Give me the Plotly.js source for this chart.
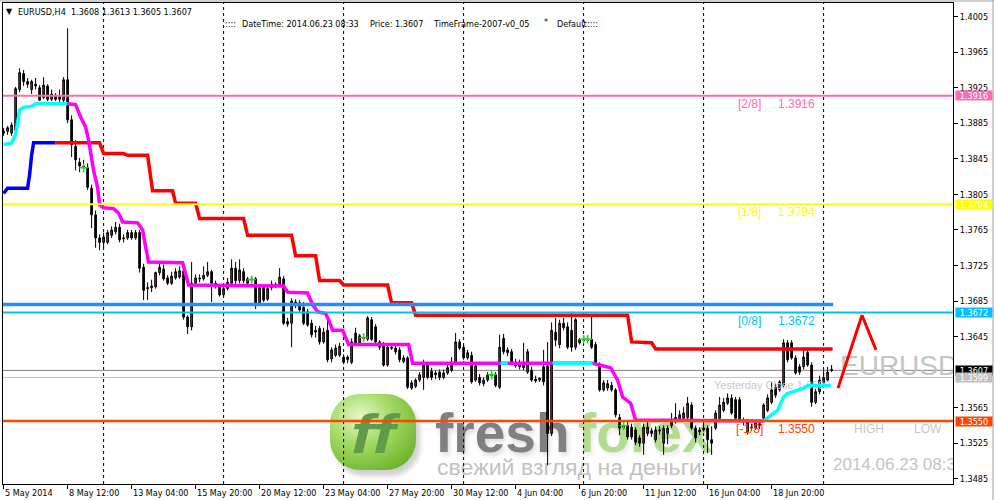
<!DOCTYPE html>
<html><head><meta charset="utf-8">
<script src="https://cdn.plot.ly/plotly-3.0.1.min.js"></script>
<style>html,body{margin:0;padding:0;background:#fff;}#chart{width:994px;height:500px;}</style>
</head><body><div id="chart"></div>
<script>
// ---------- DATA (EURUSD H4, one value per bar, bar 0 = 5 May 2014 20:00) ----------
const openP=[
1.3874,1.3876,1.3874,1.3877,1.3923,1.3941,1.3932,1.3923,1.3929,1.3925,
1.3914,1.3927,1.3912,1.3916,1.3912,1.3911,1.3934,1.3889,1.3859,1.3841,
1.3837,1.3835,1.3812,1.3782,1.3756,1.3751,1.3751,1.3759,1.3763,1.3768,
1.3755,1.3756,1.3762,1.3756,1.3762,1.3723,1.3699,1.3700,1.3701,1.3717,
1.3721,1.3711,1.3705,1.3711,1.3712,1.3719,1.3667,1.3656,1.3705,1.3711,
1.3710,1.3714,1.3718,1.3705,1.3702,1.3692,1.3699,1.3705,1.3722,1.3708,
1.3718,1.3705,1.3710,1.3710,1.3683,1.3700,1.3687,1.3700,1.3704,1.3703,
1.3710,1.3662,1.3660,1.3681,1.3683,1.3678,1.3673,1.3660,1.3652,1.3654,
1.3639,1.3652,1.3620,1.3624,1.3624,1.3622,1.3619,1.3616,1.3649,1.3638,
1.3644,1.3642,1.3664,1.3656,1.3639,1.3636,1.3613,1.3633,1.3632,1.3630,
1.3617,1.3621,1.3593,1.3589,1.3596,1.3599,1.3613,1.3606,1.3602,1.3605,
1.3599,1.3604,1.3607,1.3615,1.3639,1.3633,1.3621,1.3624,1.3596,1.3599,
1.3592,1.3596,1.3602,1.3602,1.3588,1.3643,1.3630,1.3628,1.3615,1.3611,
1.3616,1.3605,1.3607,1.3597,1.3596,1.3611,1.3612,1.3536,1.3650,1.3636,
1.3660,1.3656,1.3652,1.3633,1.3638,1.3642,1.3642,1.3642,1.3636,1.3613,
1.3585,1.3587,1.3590,1.3585,1.3554,1.3543,1.3545,1.3543,1.3540,1.3531,
1.3525,1.3536,1.3539,1.3529,1.3540,1.3525,1.3536,1.3545,1.3549,1.3552,
1.3553,1.3554,1.3568,1.3542,1.3538,1.3542,1.3542,1.3529,1.3542,1.3553,
1.3562,1.3570,1.3576,1.3574,1.3574,1.3551,1.3549,1.3542,1.3542,1.3545,
1.3553,1.3562,1.3571,1.3588,1.3585,1.3590,1.3638,1.3638,1.3621,1.3611,
1.3611,1.3627,1.3613,1.3571,1.3583,1.3593,1.3596,1.3608];
const highP=[
1.3880,1.3882,1.3886,1.3926,1.3947,1.3945,1.3936,1.3934,1.3936,1.3928,
1.3937,1.3929,1.3923,1.3919,1.3923,1.3937,1.3992,1.3894,1.3866,1.3846,
1.3844,1.3840,1.3816,1.3787,1.3760,1.3762,1.3765,1.3769,1.3774,1.3772,
1.3760,1.3765,1.3765,1.3765,1.3765,1.3727,1.3706,1.3709,1.3718,1.3727,
1.3726,1.3714,1.3718,1.3722,1.3724,1.3724,1.3669,1.3729,1.3715,1.3715,
1.3724,1.3729,1.3720,1.3708,1.3704,1.3701,1.3711,1.3732,1.3729,1.3732,
1.3722,1.3712,1.3713,1.3712,1.3703,1.3702,1.3703,1.3708,1.3706,1.3722,
1.3713,1.3666,1.3688,1.3687,1.3686,1.3684,1.3676,1.3664,1.3657,1.3657,
1.3655,1.3667,1.3633,1.3636,1.3638,1.3625,1.3624,1.3643,1.3655,1.3648,
1.3648,1.3668,1.3667,1.3659,1.3641,1.3639,1.3637,1.3637,1.3636,1.3633,
1.3624,1.3623,1.3596,1.3598,1.3605,1.3619,1.3616,1.3610,1.3607,1.3608,
1.3608,1.3613,1.3622,1.3649,1.3642,1.3636,1.3630,1.3628,1.3616,1.3603,
1.3599,1.3605,1.3605,1.3605,1.3647,1.3648,1.3633,1.3631,1.3620,1.3619,
1.3638,1.3631,1.3611,1.3601,1.3599,1.3630,1.3639,1.3661,1.3666,1.3664,
1.3666,1.3661,1.3673,1.3666,1.3643,1.3646,1.3646,1.3667,1.3639,1.3616,
1.3596,1.3596,1.3594,1.3587,1.3558,1.3549,1.3549,1.3547,1.3543,1.3534,
1.3547,1.3549,1.3542,1.3544,1.3544,1.3545,1.3545,1.3559,1.3570,1.3562,
1.3566,1.3577,1.3571,1.3545,1.3543,1.3547,1.3545,1.3544,1.3562,1.3577,
1.3576,1.3581,1.3580,1.3577,1.3577,1.3554,1.3552,1.3547,1.3550,1.3551,
1.3570,1.3580,1.3594,1.3592,1.3596,1.3642,1.3641,1.3641,1.3624,1.3614,
1.3630,1.3630,1.3616,1.3586,1.3601,1.3607,1.3611,1.3613];
const lowP=[
1.3871,1.3872,1.3871,1.3876,1.3920,1.3927,1.3925,1.3918,1.3923,1.3910,
1.3912,1.3910,1.3910,1.3910,1.3909,1.3908,1.3885,1.3847,1.3832,1.3830,
1.3830,1.3810,1.3767,1.3745,1.3742,1.3745,1.3749,1.3756,1.3760,1.3751,
1.3751,1.3754,1.3754,1.3754,1.3717,1.3686,1.3686,1.3695,1.3699,1.3714,
1.3708,1.3703,1.3703,1.3709,1.3710,1.3664,1.3648,1.3652,1.3702,1.3706,
1.3708,1.3712,1.3684,1.3699,1.3690,1.3690,1.3697,1.3703,1.3704,1.3705,
1.3705,1.3703,1.3706,1.3676,1.3681,1.3684,1.3685,1.3697,1.3700,1.3701,
1.3658,1.3656,1.3633,1.3677,1.3673,1.3658,1.3656,1.3644,1.3644,1.3636,
1.3637,1.3616,1.3616,1.3622,1.3622,1.3614,1.3615,1.3614,1.3636,1.3636,
1.3640,1.3640,1.3640,1.3637,1.3630,1.3611,1.3611,1.3630,1.3625,1.3616,
1.3615,1.3586,1.3585,1.3587,1.3594,1.3585,1.3597,1.3596,1.3597,1.3596,
1.3597,1.3602,1.3605,1.3613,1.3630,1.3619,1.3619,1.3592,1.3594,1.3590,
1.3589,1.3594,1.3597,1.3588,1.3586,1.3625,1.3623,1.3614,1.3610,1.3608,
1.3607,1.3603,1.3594,1.3593,1.3594,1.3590,1.3500,1.3533,1.3634,1.3632,
1.3652,1.3631,1.3628,1.3630,1.3636,1.3639,1.3639,1.3631,1.3613,1.3583,
1.3583,1.3584,1.3583,1.3554,1.3534,1.3540,1.3529,1.3529,1.3523,1.3521,
1.3512,1.3533,1.3532,1.3526,1.3535,1.3512,1.3524,1.3542,1.3547,1.3550,
1.3551,1.3552,1.3540,1.3526,1.3534,1.3538,1.3514,1.3512,1.3540,1.3551,
1.3560,1.3568,1.3557,1.3551,1.3549,1.3545,1.3535,1.3539,1.3540,1.3541,
1.3551,1.3560,1.3569,1.3576,1.3583,1.3588,1.3616,1.3619,1.3602,1.3602,
1.3608,1.3611,1.3566,1.3569,1.3580,1.3589,1.3594,1.3605];
const closeP=[
1.3876,1.3880,1.3883,1.3924,1.3942,1.3932,1.3929,1.3932,1.3927,1.3911,
1.3928,1.3912,1.3918,1.3912,1.3915,1.3934,1.3889,1.3861,1.3844,1.3837,
1.3835,1.3813,1.3782,1.3756,1.3751,1.3757,1.3762,1.3765,1.3768,1.3754,
1.3756,1.3762,1.3756,1.3762,1.3722,1.3697,1.3700,1.3702,1.3717,1.3723,
1.3710,1.3705,1.3713,1.3718,1.3719,1.3667,1.3656,1.3705,1.3711,1.3710,
1.3714,1.3718,1.3705,1.3703,1.3692,1.3699,1.3706,1.3722,1.3708,1.3720,
1.3708,1.3710,1.3709,1.3683,1.3700,1.3686,1.3699,1.3704,1.3702,1.3712,
1.3660,1.3659,1.3685,1.3684,1.3675,1.3660,1.3658,1.3647,1.3650,1.3639,
1.3650,1.3619,1.3630,1.3632,1.3634,1.3616,1.3622,1.3639,1.3638,1.3646,
1.3643,1.3666,1.3642,1.3639,1.3633,1.3613,1.3633,1.3632,1.3628,1.3619,
1.3621,1.3588,1.3587,1.3596,1.3602,1.3613,1.3599,1.3599,1.3604,1.3599,
1.3604,1.3610,1.3616,1.3639,1.3632,1.3621,1.3627,1.3594,1.3612,1.3593,
1.3596,1.3602,1.3601,1.3590,1.3633,1.3628,1.3627,1.3616,1.3612,1.3615,
1.3610,1.3628,1.3596,1.3595,1.3598,1.3594,1.3536,1.3652,1.3641,1.3660,
1.3655,1.3633,1.3633,1.3664,1.3642,1.3641,1.3641,1.3633,1.3615,1.3585,
1.3593,1.3592,1.3585,1.3557,1.3542,1.3545,1.3532,1.3532,1.3526,1.3525,
1.3543,1.3543,1.3536,1.3540,1.3539,1.3542,1.3542,1.3549,1.3554,1.3557,
1.3559,1.3570,1.3542,1.3531,1.3540,1.3540,1.3529,1.3525,1.3559,1.3568,
1.3571,1.3576,1.3559,1.3553,1.3551,1.3550,1.3538,1.3543,1.3548,1.3547,
1.3568,1.3576,1.3585,1.3579,1.3594,1.3638,1.3619,1.3621,1.3604,1.3605,
1.3622,1.3613,1.3571,1.3583,1.3596,1.3599,1.3605,1.3607];

const tickBars=[0,16,32,48,64,80,96,112,128,144,160,176,192];
const tickLabels=["5 May 2014","8 May 12:00","13 May 04:00","15 May 20:00","20 May 12:00","23 May 04:00","27 May 20:00","30 May 12:00","4 Jun 04:00","6 Jun 20:00","11 Jun 12:00","16 Jun 04:00","18 Jun 20:00"];
const weekStartBars=[25,55,85,115,145,175,205];
// 1.3605 is hidden behind the bid label in the reference
const priceTicks=[1.4005,1.3965,1.3925,1.3885,1.3845,1.3805,1.3765,1.3725,1.3685,1.3645,1.3565,1.3525,1.3485];

const levelPrices=[1.3916,1.3794,1.3672,1.3550];
const levelNames=["[2/8]","[1/8]","[0/8]","[-1/8]"];
const levelColors=["#ff69b4","#ffff00","#00bfff","#ff4500"];
const bluePivot=1.3681;
const bidPrice=1.3607;
const yesterdayClose=1.3599;

// step indicator lines (bar index, price)
const redStepX=[13,24,25,30,31,36,37.25,42.25,43,48,49,60,61,72,73,78,79,84,85,96,97,102,103,156,157,162,163,207.25];
const redStepY=[1.3863,1.3863,1.3851,1.3851,1.3849,1.3849,1.3809,1.3809,1.3795,1.3795,1.3778,1.3778,1.3759,1.3759,1.3736,1.3736,1.3708,1.3708,1.3703,1.3703,1.3683,1.3683,1.3669,1.3669,1.3639,1.3638,1.3631,1.3631];
const blueStepX=[0,1,6,6.5,7,7.5,13];
const blueStepY=[1.3806,1.3812,1.3812,1.3827,1.3849,1.3863,1.3863];
const magentaX=[16,18,19.25,20.5,21.25,22.5,23.5,24,25,27.5,28.75,29.75,33.5,34.75,35.5,36.25,44.75,45.5,46.25,70,71,76,77.25,78.5,80.5,81.25,82.25,84.75,86.25,101.25,102.25,147.25,151.75,153.5,154.75,156.75,158,190];
const magentaY=[1.3907,1.3906,1.3892,1.3881,1.3866,1.3832,1.3813,1.3793,1.3790,1.3789,1.3784,1.3774,1.3773,1.3765,1.3746,1.3729,1.3728,1.3717,1.3703,1.3702,1.3695,1.3694,1.3681,1.3673,1.3671,1.3664,1.3652,1.3652,1.3636,1.3636,1.3615,1.3615,1.3610,1.3596,1.3577,1.3570,1.3551,1.3550];
const cyanX=[0,2,3,4,5,7,8,16,null,124.25,126,null,137.25,147.25,null,190,192.25,193.5,195,196,200,201,206.75];
const cyanY=[1.3861,1.3863,1.3872,1.3900,1.3903,1.3904,1.3907,1.3907,null,1.3615,1.3615,null,1.3615,1.3615,null,1.3550,1.3557,1.3562,1.3577,1.3581,1.3587,1.3590,1.3590];
const zigzagX=[208.6,214.6,218.1];
const zigzagY=[1.3587,1.3669,1.3630];
const fractalX=[20,62,90,122,145,146,155];
const fractalY=[1.3835,1.3709,1.3644,1.3602,1.3642,1.3642,1.3545];

// ---------- LAYOUT GEOMETRY ----------
const W=994,H=500,ML=3,MR=41,MT=3,MB=16;
const PW=W-ML-MR, PH=H-MT-MB;
const PXBAR=4, X0=-0.15;
const px2x=px=>(px-ML)/PW;
const py2y=py=>1-(py-MT)/PH;
const pxToBar=px=>X0+(px-ML)/PXBAR;
const COND="DejaVu Sans Condensed, DejaVu Sans, sans-serif";
const ARIAL="Liberation Sans, Arial, sans-serif";
const SMALL=9;

const barIndex=openP.map((_,i)=>i);

const traces=[];
traces.push({type:'scatter',mode:'text',x:[pxToBar(840)],y:[1.3610],text:['EURUSD'],textposition:'middle right',
  textfont:{family:ARIAL,size:28,color:'#c4c4c4'},hoverinfo:'skip',cliponaxis:true});
traces.push({type:'scatter',mode:'text',x:[pxToBar(833)],y:[1.3500],text:['2014.06.23 08:33'],textposition:'middle right',
  textfont:{family:ARIAL,size:17,color:'#c4c4c4'},hoverinfo:'skip',cliponaxis:true});
traces.push({type:'scatter',mode:'text',x:[pxToBar(714)],y:[1.3589],text:['Yesterday Close 1.3599'],textposition:'middle right',
  textfont:{family:ARIAL,size:11,color:'#c8c8c8'},hoverinfo:'skip',cliponaxis:true});

traces.push({type:'candlestick',x:barIndex,open:openP,high:highP,low:lowP,close:closeP,
  increasing:{fillcolor:'#ff0000',line:{color:'#000000',width:1}},
  decreasing:{fillcolor:'#000000',line:{color:'#000000',width:1}},
  whiskerwidth:0,hoverinfo:'skip'});

traces.push({type:'scatter',mode:'lines',x:blueStepX,y:blueStepY,line:{color:'#0000ff',width:3.5},hoverinfo:'skip'});
traces.push({type:'scatter',mode:'lines',x:redStepX,y:redStepY,line:{color:'#ff0000',width:3.5},hoverinfo:'skip'});
traces.push({type:'scatter',mode:'lines',x:magentaX,y:magentaY,line:{color:'#ff00ff',width:3.5},hoverinfo:'skip'});
traces.push({type:'scatter',mode:'lines',x:cyanX,y:cyanY,line:{color:'#00ffff',width:3.5},connectgaps:false,hoverinfo:'skip'});
traces.push({type:'scatter',mode:'lines',x:zigzagX,y:zigzagY,line:{color:'#ff0000',width:3},hoverinfo:'skip'});
traces.push({type:'scatter',mode:'markers',x:fractalX,y:fractalY,marker:{symbol:'cross-thin',size:6,line:{color:'#00ee00',width:1.5}},hoverinfo:'skip'});

const shapes=[];
weekStartBars.forEach(b=>shapes.push({type:'line',xref:'x',yref:'paper',x0:b,x1:b,y0:0,y1:1,layer:'below',line:{color:'#000',width:1,dash:'3px,3px'}}));
shapes.push({type:'line',xref:'paper',yref:'y',x0:0,x1:1,y0:bidPrice,y1:bidPrice,layer:'below',line:{color:'#808080',width:1}});
shapes.push({type:'line',xref:'paper',yref:'y',x0:0,x1:1,y0:yesterdayClose,y1:yesterdayClose,layer:'below',line:{color:'#c0c0c0',width:1}});
const levelWidths=[2,2,2,2.5];
levelPrices.forEach((p,k)=>shapes.push({type:'line',xref:'paper',yref:'y',x0:0,x1:1,y0:p,y1:p,layer:'above',line:{color:levelColors[k],width:levelWidths[k]}}));
shapes.push({type:'line',xref:'x',yref:'y',x0:X0,x1:openP.length-1+0.4,y0:bluePivot,y1:bluePivot,layer:'above',line:{color:'#1e90ff',width:3.5}});
shapes.push({type:'line',xref:'paper',yref:'paper',x0:px2x(0),x1:px2x(994),y0:py2y(1),y1:py2y(1),line:{color:'#a0a0a0',width:1}});
shapes.push({type:'line',xref:'paper',yref:'paper',x0:px2x(993),x1:px2x(993),y0:py2y(0),y1:py2y(500),line:{color:'#a0a0a0',width:1}});

const ann=[];
const txt=(px,py,text,font,extra)=>Object.assign({xref:'paper',yref:'paper',x:px2x(px),y:py2y(py),xanchor:'left',yanchor:'middle',text:text,showarrow:false,borderpad:0,font:font},extra||{});
const smallFont={family:COND,size:SMALL,color:'#000'};
ann.push(txt(9,12,'▼',{family:'DejaVu Sans',size:8,color:'#000'},{xanchor:'center'}));
ann.push(txt(17,12,'EURUSD,H4\u00a0\u00a01.3608 1.3613 1.3605 1.3607',smallFont));
ann.push(txt(224,24,'::::',smallFont));
ann.push(txt(241,24,'DateTime: 2014.06.23 08:33',smallFont));
ann.push(txt(369,24,'Price: 1.3607',smallFont));
ann.push(txt(432,24,'TimeFrame-2007-v0_05',smallFont));
ann.push(txt(543,22,'*',smallFont));
ann.push(txt(556,24,'Default',smallFont));
ann.push(txt(586,24,'::::',smallFont));
tickBars.forEach((b,k)=>ann.push({xref:'x',yref:'paper',x:b,y:py2y(493),xanchor:'left',yanchor:'middle',text:tickLabels[k],showarrow:false,borderpad:0,font:smallFont}));
levelPrices.forEach((p,k)=>{
  ann.push({xref:'paper',yref:'y',x:px2x(k===3?734:736),y:p,yshift:-8,xanchor:'left',yanchor:'middle',text:levelNames[k],showarrow:false,font:{family:ARIAL,size:12,color:levelColors[k]}});
  ann.push({xref:'paper',yref:'y',x:px2x(776),y:p,yshift:-8,xanchor:'left',yanchor:'middle',text:p.toFixed(4),showarrow:false,font:{family:ARIAL,size:12,color:levelColors[k]}});
});
ann.push({xref:'paper',yref:'y',x:px2x(852),y:levelPrices[3],yshift:-8,xanchor:'left',yanchor:'middle',text:'HIGH',showarrow:false,font:{family:ARIAL,size:12,color:'#c8c8c8'}});
ann.push({xref:'paper',yref:'y',x:px2x(912),y:levelPrices[3],yshift:-8,xanchor:'left',yanchor:'middle',text:'LOW',showarrow:false,font:{family:ARIAL,size:12,color:'#c8c8c8'}});
const boxPrices=[levelPrices[0],levelPrices[1],levelPrices[2],bidPrice,yesterdayClose,levelPrices[3]];
const boxColors=[levelColors[0],levelColors[1],levelColors[2],'#000000','#c0c0c0',levelColors[3]];
boxPrices.forEach((p,k)=>ann.push({xref:'paper',yref:'y',x:1,xshift:2,y:p,xanchor:'left',yanchor:'middle',text:p.toFixed(4),showarrow:false,
  bgcolor:boxColors[k],width:36,height:9,borderpad:0,align:'center',font:{family:COND,size:SMALL,color:'#ffffff'}}));

const wm=`<svg xmlns="http://www.w3.org/2000/svg" width="400" height="100" viewBox="0 0 400 100">
<defs><radialGradient id="g" cx="0.35" cy="0.3" r="0.8"><stop offset="0" stop-color="#e6f6cc"/><stop offset="0.45" stop-color="#a6da66"/><stop offset="1" stop-color="#6cb22c"/></radialGradient>
<filter id="s" x="-20%" y="-20%" width="140%" height="140%"><feGaussianBlur stdDeviation="2.5"/></filter></defs>
<rect x="9" y="20" width="86" height="76" rx="30" fill="#000" opacity="0.18" filter="url(#s)"/>
<rect x="5" y="14" width="86" height="76" rx="30" fill="url(#g)"/>
<text x="26" y="73" font-family="Liberation Sans" font-weight="bold" font-style="italic" font-size="56" fill="#5f9b48" textLength="44" lengthAdjust="spacingAndGlyphs">ff</text>
<text x="112" y="75" font-family="Liberation Sans" font-weight="bold" font-size="55" fill="#000" opacity="0.15" filter="url(#s)">fresh</text>
<text x="110" y="72" font-family="Liberation Sans" font-weight="bold" font-size="55" fill="#808080">fresh</text>
<text x="255" y="75" font-family="Liberation Sans" font-weight="bold" font-size="55" fill="#000" opacity="0.08" filter="url(#s)">forex</text>
<text x="253" y="72" font-family="Liberation Sans" font-weight="bold" font-size="55" fill="#b3dc90">forex</text>
<text x="112" y="95" font-family="Liberation Sans" font-size="22" fill="#c2c2c2" textLength="265" lengthAdjust="spacingAndGlyphs">свежий взгляд на деньги</text>
</svg>`;
const images=[{source:'data:image/svg+xml;charset=utf-8,'+encodeURIComponent(wm),xref:'paper',yref:'paper',
  x:px2x(325),y:py2y(380),sizex:400/PW,sizey:100/PH,xanchor:'left',yanchor:'top',sizing:'stretch',layer:'below'}];

const layout={
  width:W,height:H,margin:{l:ML,r:MR,t:MT,b:MB,pad:0},
  paper_bgcolor:'#ffffff',plot_bgcolor:'#ffffff',showlegend:false,
  boxgap:0.4,
  xaxis:{range:[X0,X0+PW/PXBAR],tickmode:'array',tickvals:tickBars,ticktext:tickLabels,showticklabels:false,ticks:'outside',ticklen:4,tickcolor:'#000',
    showgrid:false,zeroline:false,showline:true,mirror:true,linecolor:'#000',linewidth:1,rangeslider:{visible:false},fixedrange:true},
  yaxis:{side:'right',range:[1.34791,1.40204],tickmode:'array',tickvals:priceTicks,tickformat:'.4f',ticks:'outside',ticklen:4,tickcolor:'#000',
    tickfont:{family:COND,size:SMALL,color:'#000'},showgrid:false,zeroline:false,showline:true,mirror:true,linecolor:'#000',linewidth:1,fixedrange:true},
  shapes:shapes,annotations:ann,images:images
};
Plotly.newPlot('chart',traces,layout,{staticPlot:true,displayModeBar:false});
</script></body></html>
